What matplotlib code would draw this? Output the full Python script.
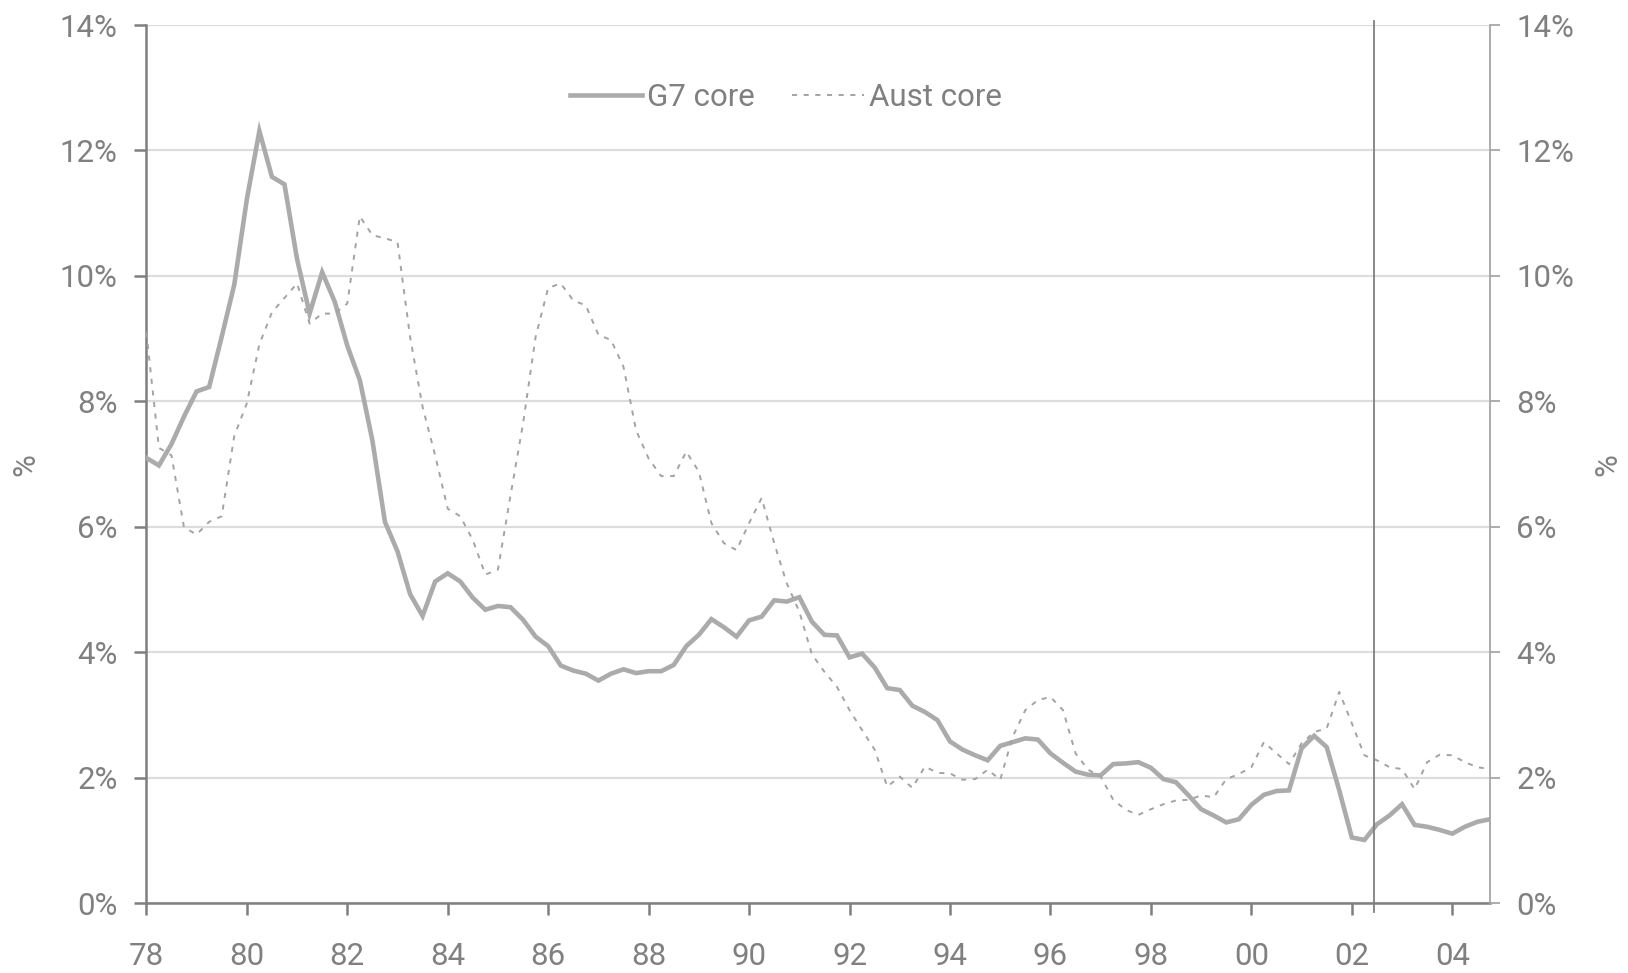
import numpy as np
import matplotlib
matplotlib.use("Agg")
import matplotlib.pyplot as plt

plt.rcParams['font.family'] = ['Roboto', 'DejaVu Sans']
plt.rcParams['font.weight'] = 'normal'

# Quarterly core inflation, % year-ended, 1978Q1 - 2004Q4
g7_core = [
    7.10, 6.98, 7.32, 7.76,    # 1978
    8.16, 8.23, 9.03, 9.86,    # 1979
    11.22, 12.31, 11.58, 11.46,  # 1980
    10.27, 9.40, 10.06, 9.59,  # 1981
    8.89, 8.34, 7.38, 6.08,    # 1982
    5.61, 4.93, 4.58, 5.13,    # 1983
    5.26, 5.13, 4.87, 4.68,    # 1984
    4.74, 4.72, 4.52, 4.25,    # 1985
    4.10, 3.79, 3.71, 3.66,    # 1986
    3.55, 3.66, 3.73, 3.67,    # 1987
    3.70, 3.70, 3.80, 4.10,    # 1988
    4.28, 4.53, 4.40, 4.25,    # 1989
    4.51, 4.57, 4.83, 4.81,    # 1990
    4.88, 4.49, 4.28, 4.27,    # 1991
    3.92, 3.98, 3.76, 3.43,    # 1992
    3.40, 3.15, 3.05, 2.92,    # 1993
    2.58, 2.45, 2.36, 2.28,    # 1994
    2.51, 2.57, 2.63, 2.61,    # 1995
    2.39, 2.24, 2.10, 2.05,    # 1996
    2.04, 2.22, 2.23, 2.25,    # 1997
    2.16, 1.98, 1.93, 1.72,    # 1998
    1.50, 1.40, 1.29, 1.34,    # 1999
    1.57, 1.73, 1.79, 1.80,    # 2000
    2.47, 2.67, 2.49, 1.80,    # 2001
    1.05, 1.01, 1.26, 1.40,    # 2002
    1.58, 1.25, 1.22, 1.17,    # 2003
    1.11, 1.22, 1.30, 1.34,    # 2004
]

aust_core = [
    9.10, 7.26, 7.14, 5.99,    # 1978
    5.88, 6.08, 6.17, 7.45,    # 1979
    7.97, 8.91, 9.42, 9.65,    # 1980
    9.88, 9.24, 9.40, 9.40,    # 1981
    9.56, 10.95, 10.65, 10.60,  # 1982
    10.54, 9.03, 7.91, 7.14,   # 1983
    6.29, 6.17, 5.79, 5.24,    # 1984
    5.32, 6.50, 7.65, 9.03,    # 1985
    9.81, 9.88, 9.61, 9.53,    # 1986
    9.06, 8.98, 8.55, 7.54,    # 1987
    7.09, 6.81, 6.81, 7.20,    # 1988
    6.88, 6.06, 5.74, 5.63,    # 1989
    6.06, 6.46, 5.74, 5.10,    # 1990
    4.65, 3.97, 3.69, 3.45,    # 1991
    3.08, 2.76, 2.45, 1.86,    # 1992
    2.02, 1.84, 2.18, 2.08,    # 1993
    2.07, 1.97, 1.98, 2.13,    # 1994
    1.97, 2.66, 3.08, 3.24,    # 1995
    3.29, 3.08, 2.39, 2.13,    # 1996
    2.02, 1.65, 1.49, 1.41,    # 1997
    1.50, 1.58, 1.64, 1.65,    # 1998
    1.72, 1.69, 1.98, 2.06,    # 1999
    2.17, 2.57, 2.39, 2.22,    # 2000
    2.55, 2.73, 2.79, 3.37,    # 2001
    2.87, 2.36, 2.28, 2.17,    # 2002
    2.14, 1.82, 2.25, 2.37,    # 2003
    2.36, 2.25, 2.17, 2.14,    # 2004
]

start_year = 1978
series_labels = ['G7 core', 'Aust core']
x_tick_years = list(range(1978, 2005, 2))
x_tick_labels = ['78', '80', '82', '84', '86', '88', '90', '92', '94', '96',
                 '98', '00', '02', '04']
y_ticks = [0, 2, 4, 6, 8, 10, 12, 14]
y_tick_labels = ['0%', '2%', '4%', '6%', '8%', '10%', '12%', '14%']
forecast_start = 2002.44

quarters = start_year + np.arange(len(g7_core)) / 4.0

TEXT = '#808080'
AXIS = '#7f7f7f'
FS = 22.5

fig = plt.figure(figsize=(16.28, 9.73), dpi=100)
ax = fig.add_axes([0.0899, 0.0716, 0.8253, 0.9027])

ax.plot(quarters, g7_core, color='#ababab', lw=3.3, solid_joinstyle='miter',
        label=series_labels[0], zorder=3)
ax.plot(quarters, aust_core, color='#a3a3a3', lw=1.4,
        linestyle=(0, (2.6, 3.4)), label=series_labels[1], zorder=3)

ax.set_xlim(start_year, quarters[-1])
ax.set_ylim(0, 14)
ax.set_yticks(y_ticks)
ax.set_yticklabels(y_tick_labels)
ax.set_xticks(x_tick_years)
ax.set_xticklabels(x_tick_labels)
ax.grid(axis='y', color='#dcdcdc', lw=1.6)
ax.set_axisbelow(True)

for side in ('top', 'right'):
    ax.spines[side].set_visible(False)
for side in ('left', 'bottom'):
    ax.spines[side].set_color(AXIS)
    ax.spines[side].set_linewidth(1.8)

ax.tick_params(axis='y', direction='out', length=8.6, width=1.8, color=AXIS,
               labelsize=FS, labelcolor=TEXT, pad=12)
ax.tick_params(axis='x', direction='out', length=8.6, width=1.8, color=AXIS,
               labelsize=FS, labelcolor=TEXT, pad=19)

# forecast divider
ax.axvline(forecast_start, ymin=-0.0103, ymax=1.0046, color='#808080',
           lw=1.3, clip_on=False, zorder=4)

ax2 = ax.twinx()
ax2.set_ylim(0, 14)
ax2.set_yticks(y_ticks)
ax2.set_yticklabels(y_tick_labels)
for side in ('top', 'left', 'bottom'):
    ax2.spines[side].set_visible(False)
ax2.spines['right'].set_color('#a6a6a6')
ax2.spines['right'].set_linewidth(1.3)
ax2.tick_params(axis='y', direction='out', length=7, width=1.3, color='#a6a6a6',
                labelsize=FS, labelcolor=TEXT, pad=12)

ax.set_ylabel('%', fontsize=FS, color=TEXT, va='center')
ax.yaxis.set_label_coords(-0.0895, 0.5)
ax2.set_ylabel('%', fontsize=FS, color=TEXT, rotation=90, va='center')
ax2.yaxis.set_label_coords(1.0875, 0.5)

leg = ax.legend(loc='center', bbox_to_anchor=(0.476, 0.918), ncol=2,
                frameon=False, fontsize=FS, labelcolor=TEXT,
                handlelength=2.3, handletextpad=0.15, columnspacing=1.2)

fig.savefig('out.png', dpi=100)
